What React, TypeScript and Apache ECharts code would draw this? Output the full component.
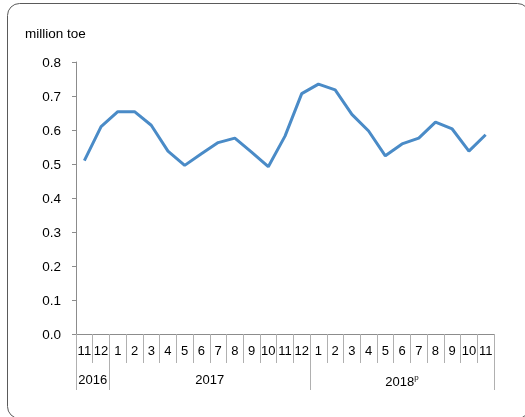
import React, { useEffect, useRef } from "react";
import * as echarts from "echarts";

const months = ["11", "12", "1", "2", "3", "4", "5", "6", "7", "8", "9", "10", "11", "12", "1", "2", "3", "4", "5", "6", "7", "8", "9", "10", "11"];
const values = [0.51, 0.61, 0.654, 0.654, 0.614, 0.538, 0.496, 0.53, 0.563, 0.576, 0.535, 0.492, 0.582, 0.707, 0.735, 0.718, 0.646, 0.597, 0.524, 0.559, 0.576, 0.623, 0.603, 0.538, 0.586];
const years = ["2016", "2017", "2018"];
const yearMonthCounts = [2, 12, 11];
const yearSuffix = ["", "", "p"];
const yTicks = [0, 0.1, 0.2, 0.3, 0.4, 0.5, 0.6, 0.7, 0.8];

export default function App() {
  const ref = useRef<HTMLDivElement>(null);
  useEffect(() => {
    if (!ref.current) return;
    const chart = echarts.init(ref.current, null, { renderer: "svg" });

    const halfSlots: string[] = [];
    for (let i = 0; i <= months.length * 2; i++) halfSlots.push(String(i));
    const boundaries = new Set<number>([0]);
    const centers = new Map<number, number>();
    let acc = 0;
    yearMonthCounts.forEach((c, i) => {
      centers.set(acc * 2 + c, i);
      acc += c;
      boundaries.add(acc * 2);
    });

    const font = "'Liberation Sans', Arial, sans-serif";
    chart.setOption({
      animation: false,
      title: {
        text: "million toe",
        left: 25,
        top: 26,
        padding: 0,
        textStyle: { fontSize: 13.5, fontWeight: "normal", color: "#000", fontFamily: font },
      },
      grid: { left: 76, right: 31, top: 62, bottom: 83, containLabel: false },
      xAxis: [
        {
          type: "category",
          data: months,
          boundaryGap: true,
          position: "bottom",
          axisLine: { show: true, lineStyle: { color: "#8c8c8c", width: 1 } },
          axisTick: { show: true, interval: 0, length: 29, lineStyle: { color: "#b0b0b0" } },
          axisLabel: { interval: 0, margin: 10, fontSize: 13, color: "#000", fontFamily: font },
        },
        {
          type: "category",
          data: halfSlots,
          boundaryGap: false,
          position: "bottom",
          axisLine: { show: false },
          axisTick: {
            show: true,
            length: 56,
            interval: (idx: number) => boundaries.has(idx),
            lineStyle: { color: "#b0b0b0" },
          },
          axisLabel: {
            interval: (idx: number) => centers.has(idx),
            margin: 39,
            fontSize: 13,
            color: "#000",
            fontFamily: font,
            formatter: (_v: string, idx: number) => {
              const yi = centers.get(idx);
              if (yi === undefined) return "";
              return yearSuffix[yi] ? years[yi] + "{sup|" + yearSuffix[yi] + "}" : years[yi];
            },
            rich: { sup: { fontSize: 8, padding: [0, 0, 8, 0], color: "#000", fontFamily: font } },
          },
        },
      ],
      yAxis: {
        type: "value",
        min: yTicks[0],
        max: yTicks[yTicks.length - 1],
        interval: 0.1,
        axisLine: { show: true, lineStyle: { color: "#8c8c8c" } },
        axisTick: { show: true, length: 4, lineStyle: { color: "#8c8c8c" } },
        splitLine: { show: false },
        axisLabel: {
          margin: 15,
          fontSize: 13.5,
          color: "#000",
          fontFamily: font,
          formatter: (v: number) => v.toFixed(1),
        },
      },
      series: [
        {
          type: "line",
          data: values,
          xAxisIndex: 0,
          symbol: "none",
          lineStyle: { color: "#4a8bc7", width: 3 },
        },
      ],
      graphic: [
        {
          type: "rect",
          shape: { x: 7.5, y: 3.5, width: 522, height: 415, r: 12 },
          style: { fill: "none", stroke: "#5a5a5a", lineWidth: 1 },
          silent: true,
        },
      ],
    });
    return () => chart.dispose();
  }, []);
  return <div ref={ref} style={{ position: "fixed", left: 0, top: 0, width: 525, height: 417 }} />;
}
